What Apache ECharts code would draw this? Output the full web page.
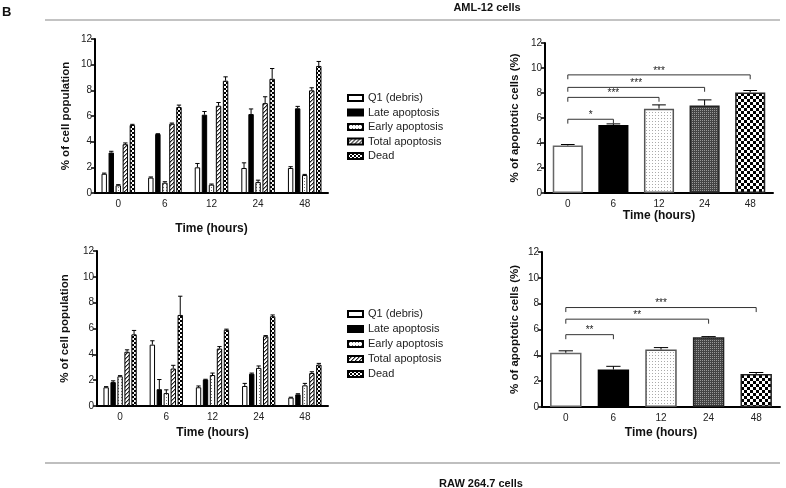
<!DOCTYPE html>
<html lang="en">
<head>
    <meta charset="utf-8">
    <title>AML-12 / RAW 264.7 apoptosis</title>
    <script src="https://cdn.jsdelivr.net/npm/echarts@6/dist/echarts.min.js"></script>
    <style>
        html, body { margin: 0; padding: 0; background: #fff; }
        #main { width: 786px; height: 488px; }
    </style>
</head>
<body>
<div id="main"></div>
<script>
    // categories and series names
    var hours = ['0', '6', '12', '24', '48'];
    var phaseNames = ['Q1 (debris)', 'Late apoptosis', 'Early apoptosis', 'Total apoptosis', 'Dead'];

    // AML-12 cells, per phase (mean / error)
    var amlQ1 = [1.5, 1.2, 2.0, 1.95, 1.95];
    var amlLate = [3.15, 4.6, 6.1, 6.15, 6.6];
    var amlEarly = [0.6, 0.8, 0.65, 0.85, 1.4];
    var amlTotal = [3.8, 5.4, 6.8, 7.0, 8.0];
    var amlDead = [5.3, 6.7, 8.75, 8.9, 9.9];
    var amlQ1Err = [0.05, 0.05, 0.3, 0.4, 0.1];
    var amlLateErr = [0.1, 0.02, 0.25, 0.4, 0.15];
    var amlEarlyErr = [0.05, 0.08, 0.05, 0.15, 0.05];
    var amlTotalErr = [0.1, 0.05, 0.25, 0.5, 0.2];
    var amlDeadErr = [0.05, 0.15, 0.3, 0.8, 0.35];

    // RAW 264.7 cells, per phase
    var rawQ1 = [1.45, 4.75, 1.45, 1.55, 0.65];
    var rawLate = [1.85, 1.3, 2.05, 2.5, 0.9];
    var rawEarly = [2.3, 1.0, 2.4, 2.95, 1.6];
    var rawTotal = [4.2, 2.9, 4.45, 5.4, 2.55];
    var rawDead = [5.55, 7.05, 5.9, 6.95, 3.2];
    var rawQ1Err = [0.05, 0.3, 0.1, 0.2, 0.03];
    var rawLateErr = [0.1, 0.75, 0.02, 0.05, 0.05];
    var rawEarlyErr = [0.05, 0.25, 0.15, 0.15, 0.15];
    var rawTotalErr = [0.15, 0.25, 0.15, 0.05, 0.1];
    var rawDeadErr = [0.3, 1.45, 0.05, 0.1, 0.1];

    // % apoptotic cells
    var amlApop = [3.8, 5.45, 6.75, 7.0, 8.05];
    var amlApopErr = [0.08, 0.08, 0.3, 0.45, 0.15];
    var rawApop = [4.2, 2.9, 4.45, 5.4, 2.55];
    var rawApopErr = [0.15, 0.25, 0.15, 0.05, 0.12];

    // significance brackets [from, to, height]
    var amlSig = [[0, 1, 5.9], [0, 2, 7.65], [0, 3, 8.45], [0, 4, 9.45]];
    var amlSigText = ['*', '***', '***', '***'];
    var rawSig = [[0, 1, 5.6], [0, 3, 6.8], [0, 4, 7.7]];
    var rawSigText = ['**', '**', '***'];

    var yTicks = { min: 0, max: 12, interval: 2 };

    // fill patterns
    function pattern(size, draw) {
        var c = document.createElement('canvas');
        c.width = c.height = size;
        var ctx = c.getContext('2d');
        ctx.fillStyle = '#fff';
        ctx.fillRect(0, 0, size, size);
        draw(ctx);
        return { image: c, repeat: 'repeat' };
    }
    var dots = pattern(3, function (ctx) { ctx.fillStyle = '#777'; ctx.fillRect(1, 1, 1, 1); });
    var stripes = pattern(4, function (ctx) {
        ctx.fillStyle = '#222';
        for (var i = 0; i < 4; i++) ctx.fillRect(3 - i, i, 1, 1);
        ctx.fillStyle = '#999';
        for (var j = 0; j < 4; j++) ctx.fillRect((4 - j) % 4, j, 1, 1);
    });
    var checkSmall = pattern(4, function (ctx) {
        ctx.fillStyle = '#000'; ctx.fillRect(0, 0, 2, 2); ctx.fillRect(2, 2, 2, 2);
    });
    var checkBig = pattern(6, function (ctx) {
        ctx.fillStyle = '#000'; ctx.fillRect(0, 0, 3, 3); ctx.fillRect(3, 3, 3, 3);
    });
    var darkGrid = pattern(2, function (ctx) {
        ctx.fillStyle = '#444'; ctx.fillRect(0, 0, 2, 2);
        ctx.fillStyle = '#999'; ctx.fillRect(0, 0, 1, 1);
    });
    var lightDots = pattern(3, function (ctx) { ctx.fillStyle = '#aaa'; ctx.fillRect(1, 1, 1, 1); });

    var phaseFills = ['#fff', '#000', dots, stripes, checkSmall];
    var apopStyles = [
        { color: '#fff', borderColor: '#666' },
        { color: '#000', borderColor: '#000' },
        { color: lightDots, borderColor: '#555' },
        { color: darkGrid, borderColor: '#222' },
        { color: checkBig, borderColor: '#222' }
    ];

    var amlPhases = [amlQ1, amlLate, amlEarly, amlTotal, amlDead];
    var amlPhaseErr = [amlQ1Err, amlLateErr, amlEarlyErr, amlTotalErr, amlDeadErr];
    var rawPhases = [rawQ1, rawLate, rawEarly, rawTotal, rawDead];
    var rawPhaseErr = [rawQ1Err, rawLateErr, rawEarlyErr, rawTotalErr, rawDeadErr];

    var txt = 'Liberation Sans, Arial, sans-serif';
    var CAT_GAP = 0.28, BAR_GAP = 0.3;

    function xAxisOf(grid, gap) {
        return {
            type: 'category', gridIndex: grid, data: hours,
            name: 'Time (hours)', nameLocation: 'middle', nameGap: gap,
            nameTextStyle: { fontFamily: txt, fontWeight: 'bold', fontSize: 12, color: '#111' },
            axisLine: { lineStyle: { color: '#000', width: 2 } },
            axisTick: { show: false },
            axisLabel: { fontFamily: txt, fontSize: 10, color: '#222', margin: 6 }
        };
    }
    function yAxisOf(grid, name, gap) {
        return {
            type: 'value', gridIndex: grid, min: yTicks.min, max: yTicks.max, interval: yTicks.interval,
            name: name, nameLocation: 'middle', nameGap: gap,
            nameTextStyle: { fontFamily: txt, fontWeight: 'bold', fontSize: 11.5, color: '#111' },
            axisLine: { show: true, lineStyle: { color: '#000', width: 2 } },
            axisTick: { show: true, length: 4, lineStyle: { color: '#000', width: 1.5 } },
            axisLabel: { fontFamily: txt, fontSize: 10, color: '#222', margin: 3 },
            splitLine: { show: false }
        };
    }

    // error bars for grouped bars (offset like the bar layout)
    function groupErrSeries(axis, phases, errs) {
        var data = [];
        for (var s = 0; s < phases.length; s++) {
            for (var c = 0; c < hours.length; c++) data.push([c, s, phases[s][c], errs[s][c]]);
        }
        return {
            type: 'custom', xAxisIndex: axis, yAxisIndex: axis, z: 5, silent: true,
            encode: { x: 0, y: 2 },
            data: data,
            renderItem: function (params, api) {
                var ci = api.value(0), si = api.value(1), v = api.value(2), e = api.value(3);
                var band = api.size([1, 0])[0];
                var group = band * (1 - CAT_GAP);
                var w = group / (5 + 4 * BAR_GAP);
                var x = api.coord([ci, v])[0] - group / 2 + w / 2 + si * w * (1 + BAR_GAP);
                var y0 = api.coord([ci, v])[1], y1 = api.coord([ci, v + e])[1];
                return {
                    type: 'group', children: [
                        { type: 'line', shape: { x1: x, y1: y0, x2: x, y2: y1 }, style: { stroke: '#000', lineWidth: 1 } },
                        { type: 'line', shape: { x1: x - w * 0.4, y1: y1, x2: x + w * 0.4, y2: y1 }, style: { stroke: '#000', lineWidth: 1 } }
                    ]
                };
            }
        };
    }
    function singleErrSeries(axis, vals, errs) {
        return {
            type: 'custom', xAxisIndex: axis, yAxisIndex: axis, z: 5, silent: true,
            encode: { x: 0, y: 1 },
            data: vals.map(function (v, i) { return [i, v, errs[i]]; }),
            renderItem: function (params, api) {
                var ci = api.value(0), v = api.value(1), e = api.value(2);
                var band = api.size([1, 0])[0];
                var p0 = api.coord([ci, v]), p1 = api.coord([ci, v + e]);
                var cw = band * 0.15;
                return {
                    type: 'group', children: [
                        { type: 'line', shape: { x1: p0[0], y1: p0[1], x2: p0[0], y2: p1[1] }, style: { stroke: '#000', lineWidth: 1 } },
                        { type: 'line', shape: { x1: p0[0] - cw, y1: p1[1], x2: p0[0] + cw, y2: p1[1] }, style: { stroke: '#000', lineWidth: 1 } }
                    ]
                };
            }
        };
    }
    function bracketSeries(axis, sig, labels) {
        return {
            type: 'custom', xAxisIndex: axis, yAxisIndex: axis, z: 6, silent: true,
            encode: { x: 0, y: 2 },
            data: sig,
            renderItem: function (params, api) {
                var a = api.value(0), b = api.value(1), h = api.value(2);
                var p1 = api.coord([a, h]), p2 = api.coord([b, h]);
                var drop = api.coord([a, h - 0.35])[1];
                return {
                    type: 'group', children: [
                        { type: 'polyline', shape: { points: [[p1[0], drop], [p1[0], p1[1]], [p2[0], p2[1]], [p2[0], drop]] },
                          style: { stroke: '#333', lineWidth: 1, fill: null } },
                        { type: 'text', x: (p1[0] + p2[0]) / 2, y: p1[1] + 1,
                          style: { text: labels[params.dataIndex], fontSize: 10, fontFamily: txt, fill: '#222', align: 'center', verticalAlign: 'bottom' } }
                    ]
                };
            }
        };
    }

    var series = [];
    [[0, amlPhases], [2, rawPhases]].forEach(function (pair) {
        pair[1].forEach(function (vals, i) {
            series.push({
                name: phaseNames[i], type: 'bar', xAxisIndex: pair[0], yAxisIndex: pair[0],
                barCategoryGap: (CAT_GAP * 100) + '%', barGap: (BAR_GAP * 100) + '%',
                itemStyle: { color: phaseFills[i], borderColor: '#000', borderWidth: 1 },
                data: vals
            });
        });
    });
    series.push(groupErrSeries(0, amlPhases, amlPhaseErr));
    series.push(groupErrSeries(2, rawPhases, rawPhaseErr));
    [[1, amlApop, amlApopErr, amlSig, amlSigText], [3, rawApop, rawApopErr, rawSig, rawSigText]].forEach(function (p) {
        series.push({
            name: 'apoptotic', type: 'bar', xAxisIndex: p[0], yAxisIndex: p[0], barWidth: '66%',
            data: p[1].map(function (v, i) {
                return { value: v, itemStyle: Object.assign({ borderWidth: 1.5 }, apopStyles[i]) };
            })
        });
        series.push(singleErrSeries(p[0], p[1], p[2]));
        series.push(bracketSeries(p[0], p[3], p[4]));
    });

    function legendAt(top, gap) {
        return {
            data: phaseNames, orient: 'vertical', left: 342, top: top, itemGap: gap,
            itemWidth: 15, itemHeight: 6, icon: 'rect', selectedMode: false,
            textStyle: { fontFamily: txt, fontSize: 11, color: '#222', lineHeight: 12 }
        };
    }

    var chart = echarts.init(document.getElementById('main'), null, { renderer: 'canvas' });
    chart.setOption({
        animation: false,
        backgroundColor: '#fff',
        grid: [
            { left: 95, top: 39, width: 233, height: 154 },
            { left: 545, top: 43, width: 228, height: 150 },
            { left: 97, top: 251, width: 231, height: 155 },
            { left: 542, top: 252, width: 238, height: 155 }
        ],
        xAxis: [xAxisOf(0, 30), xAxisOf(1, 14), xAxisOf(2, 21), xAxisOf(3, 20)],
        yAxis: [
            yAxisOf(0, '% of cell population', 23),
            yAxisOf(1, '% of apoptotic cells (%)', 24),
            yAxisOf(2, '% of cell population', 26),
            yAxisOf(3, '% of apoptotic cells (%)', 21)
        ],
        legend: [legendAt(87, 2.5), legendAt(303, 3)],
        graphic: [
            { type: 'text', left: 2, top: 6, style: { text: 'B', fontFamily: txt, fontWeight: 'bold', fontSize: 13, fill: '#111' } },
            { type: 'text', x: 487, y: 8, style: { text: 'AML-12 cells', fontFamily: txt, fontWeight: 'bold', fontSize: 11, fill: '#111', align: 'center', verticalAlign: 'middle' } },
            { type: 'line', shape: { x1: 45, y1: 20, x2: 780, y2: 20 }, style: { stroke: '#888', lineWidth: 1.2 } },
            { type: 'line', shape: { x1: 45, y1: 463, x2: 780, y2: 463 }, style: { stroke: '#aaa', lineWidth: 1.5 } },
            { type: 'text', x: 481, y: 484, style: { text: 'RAW 264.7 cells', fontFamily: txt, fontWeight: 'bold', fontSize: 11, fill: '#111', align: 'center', verticalAlign: 'middle' } }
        ],
        series: series
    });
</script>
</body>
</html>
